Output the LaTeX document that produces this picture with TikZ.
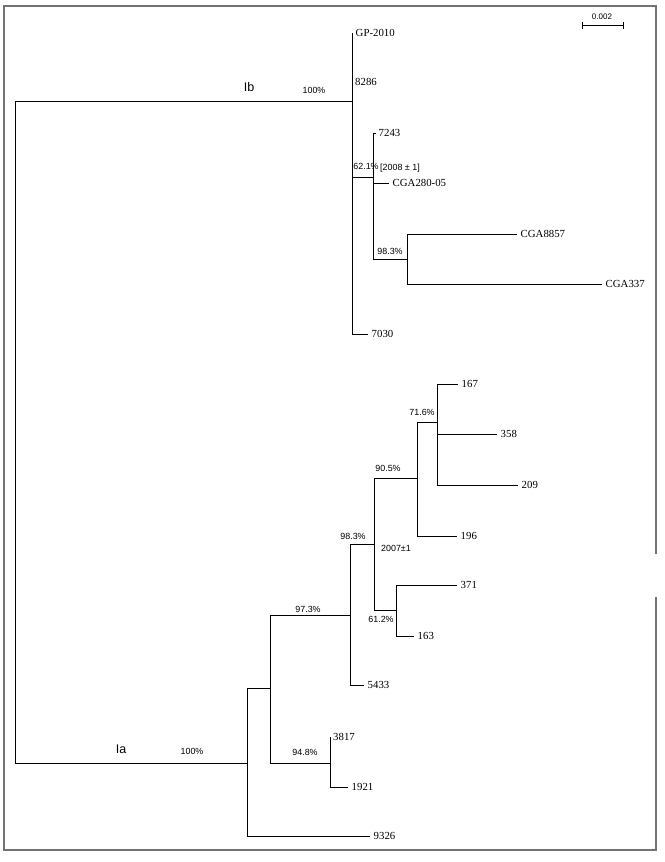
\documentclass[tikz,border=0pt]{standalone}
\usepackage{fontspec}
\setmainfont{Liberation Serif}
\newfontfamily\labsans{Liberation Sans}
\begin{document}
\begin{tikzpicture}[x=1pt,y=-1pt,
  br/.style={line width=0.8pt,black},
  leaf/.style={anchor=west,inner sep=0pt,xshift=3.5pt,font=\fontsize{10.8}{12}\selectfont},
  pct/.style={inner sep=0pt,font=\labsans\fontsize{8.9}{10}\selectfont},
  clade/.style={inner sep=0pt,font=\labsans\fontsize{12.5}{14}\selectfont},
  frame/.style={line width=1.3pt,draw=black!55}]
\useasboundingbox (0,0) rectangle (664,862);
% frame
\draw[frame] (656,554) -- (656,6) -- (4,6) -- (4,850) -- (656,850) -- (656,597);
% scale bar
\coordinate (sbl) at (582,25);
\coordinate (sbr) at (623,25);
\draw[line width=0.7pt] (sbl) -- (sbr);
\draw[line width=0.7pt] ([yshift=-3.5pt]sbl) -- ([yshift=3.5pt]sbl);
\draw[line width=0.7pt] ([yshift=-3.5pt]sbr) -- ([yshift=3.5pt]sbr);
\node[inner sep=0pt,font=\labsans\fontsize{8}{9}\selectfont] (sbt) at (602,17) {0.002};
% coordinates
\coordinate (root) at (15,432);
\coordinate (nIb) at (352,101);
\coordinate (nIa) at (247,763);
\coordinate (lGP) at (353,33);
\coordinate (l8286) at (352,82);
\coordinate (n62) at (373,177);
\coordinate (l7030) at (368,334);
\coordinate (l7243) at (376,133);
\coordinate (lCGA280) at (389,183);
\coordinate (n983a) at (407,259);
\coordinate (lCGA8857) at (517,234);
\coordinate (lCGA337) at (602,284);
\coordinate (nA) at (270,688);
\coordinate (l9326) at (370,836);
\coordinate (n973) at (350,615);
\coordinate (n948) at (330,763);
\coordinate (n983b) at (374,544);
\coordinate (l5433) at (364,685);
\coordinate (n905) at (417,478);
\coordinate (n612) at (396,610);
\coordinate (n716) at (437,422);
\coordinate (l196) at (457,536);
\coordinate (l167) at (458,384);
\coordinate (l358) at (497,434);
\coordinate (l209) at (518,485);
\coordinate (l371) at (457,585);
\coordinate (l163) at (414,636);
\coordinate (l3817) at (331,737);
\coordinate (l1921) at (348,787);
% branches
\draw[br] (root) |- (nIb);
\draw[br] (root) |- (nIa);
\draw[br] (nIb) |- (lGP);
\draw[br] (nIb) |- (n62);
\draw[br] (nIb) |- (l7030);
\draw[br] (n62) |- (l7243);
\draw[br] (n62) |- (lCGA280);
\draw[br] (n62) |- (n983a);
\draw[br] (n983a) |- (lCGA8857);
\draw[br] (n983a) |- (lCGA337);
\draw[br] (nIa) |- (nA);
\draw[br] (nIa) |- (l9326);
\draw[br] (nA) |- (n973);
\draw[br] (nA) |- (n948);
\draw[br] (n973) |- (n983b);
\draw[br] (n973) |- (l5433);
\draw[br] (n983b) |- (n905);
\draw[br] (n983b) |- (n612);
\draw[br] (n905) |- (n716);
\draw[br] (n905) |- (l196);
\draw[br] (n716) |- (l167);
\draw[br] (n716) |- (l358);
\draw[br] (n716) |- (l209);
\draw[br] (n612) |- (l371);
\draw[br] (n612) |- (l163);
\draw[br] (n948) |- (l3817);
\draw[br] (n948) |- (l1921);
% leaf labels
\node[leaf,xshift=-1pt] (tGP) at (lGP) {GP-2010};
\node[leaf,xshift=-0.5pt] (t8286) at (l8286) {8286};
\node[leaf,xshift=-1pt] (t7243) at (l7243) {7243};
\node[leaf] (tCGA280) at (lCGA280) {CGA280-05};
\node[leaf] (tCGA8857) at (lCGA8857) {CGA8857};
\node[leaf] (tCGA337) at (lCGA337) {CGA337};
\node[leaf] (t7030) at (l7030) {7030};
\node[leaf] (t167) at (l167) {167};
\node[leaf] (t358) at (l358) {358};
\node[leaf] (t209) at (l209) {209};
\node[leaf] (t196) at (l196) {196};
\node[leaf] (t371) at (l371) {371};
\node[leaf] (t163) at (l163) {163};
\node[leaf] (t5433) at (l5433) {5433};
\node[leaf,xshift=-1.5pt] (t3817) at (l3817) {3817};
\node[leaf] (t1921) at (l1921) {1921};
\node[leaf] (t9326) at (l9326) {9326};
% support / clade labels
\node[clade] (cIb) at (249,87) {Ib};
\node[clade] (cIa) at (121,749) {Ia};
\node[pct] (p100b) at (314,90) {100\%};
\node[pct] (p100a) at (192,751) {100\%};
\node[pct] (p621) at (366,166) {62.1\%};
\node[pct] (d2008) at (400,168) {[2008 ± 1]};
\node[pct] (p983a) at (390,251) {98.3\%};
\node[pct] (p716) at (422,412) {71.6\%};
\node[pct] (p905) at (388,468) {90.5\%};
\node[pct] (p983b) at (353,536) {98.3\%};
\node[pct] (d2007) at (396,548) {2007±1};
\node[pct] (p973) at (308,609) {97.3\%};
\node[pct] (p612) at (381,619) {61.2\%};
\node[pct] (p948) at (305,752) {94.8\%};
\end{tikzpicture}
\end{document}
